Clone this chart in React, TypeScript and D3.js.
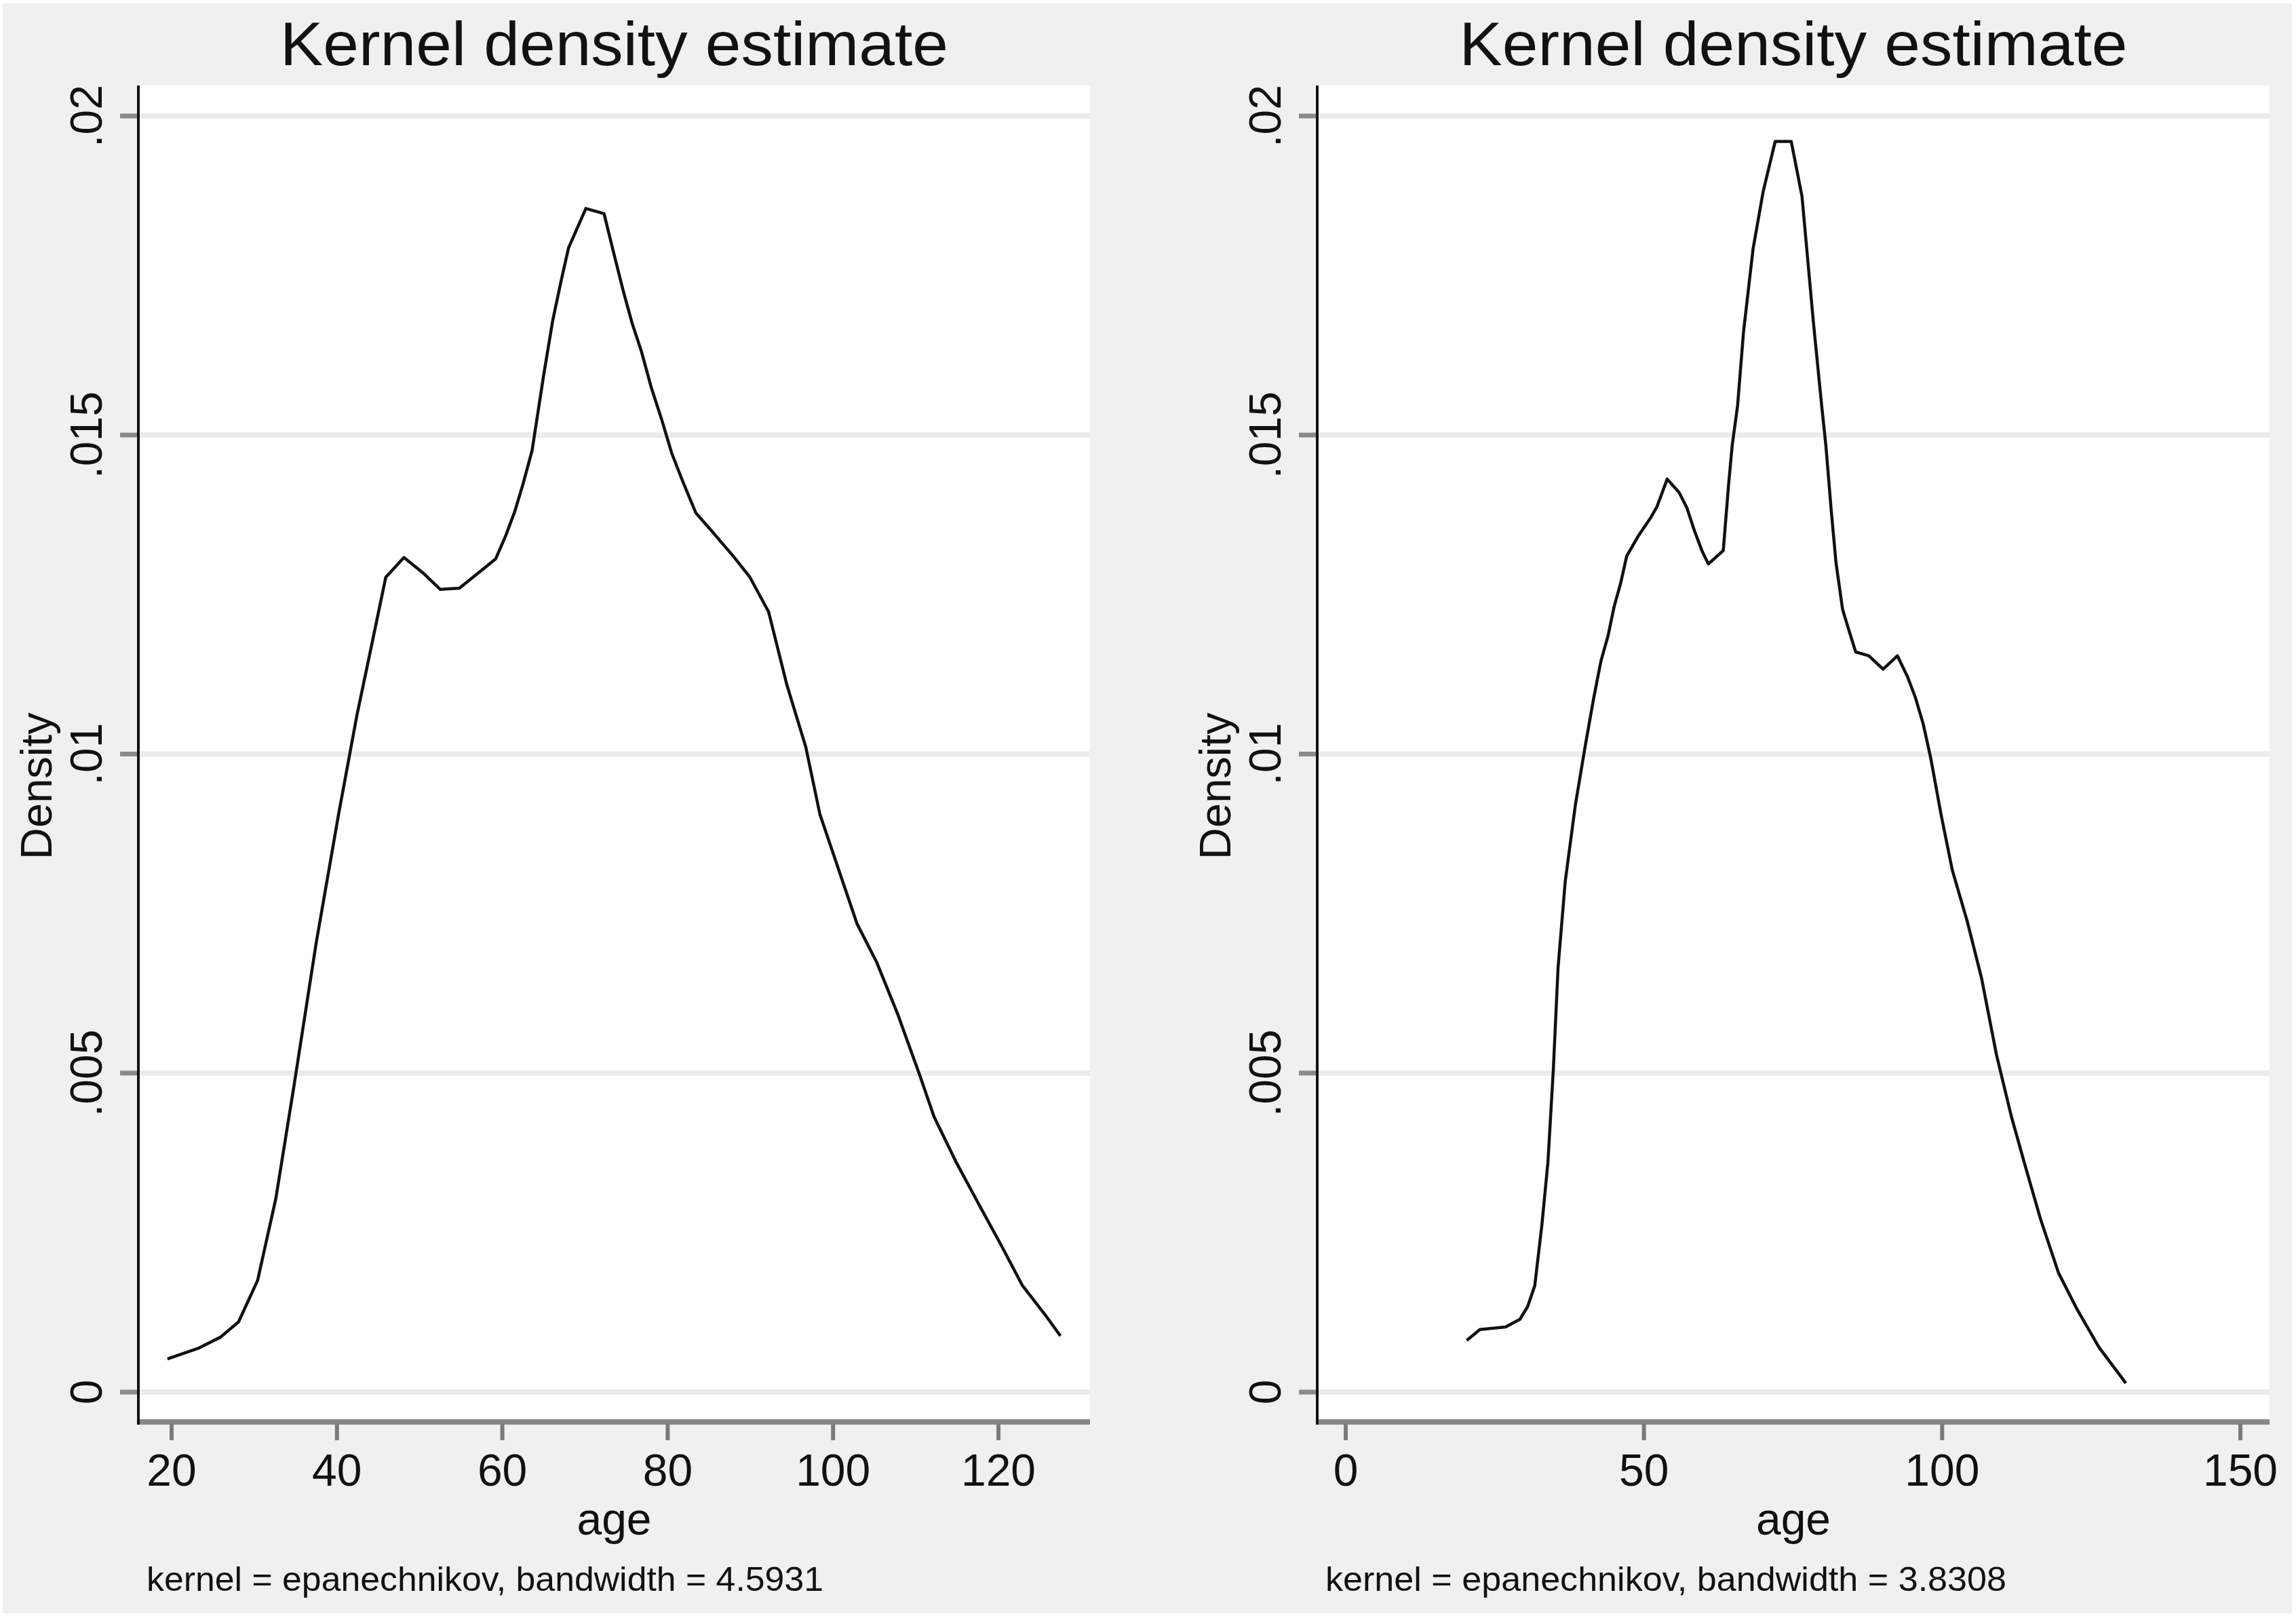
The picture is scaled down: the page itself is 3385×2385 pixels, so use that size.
import React from 'react';
import * as d3 from 'd3';

// Two Stata-style kernel density panels side by side.
const WIDTH = 3385;
const HEIGHT = 2385;
const FONT = "'Liberation Sans', Arial, Helvetica, sans-serif";

const TITLE = 'Kernel density estimate';
const X_LABEL = 'age';
const Y_LABEL = 'Density';

const yTicks = [0, 0.005, 0.01, 0.015, 0.02];
const yTickLabels = ['0', '.005', '.01', '.015', '.02'];

const leftXTicks = [20, 40, 60, 80, 100, 120];
const rightXTicks = [0, 50, 100, 150];

const leftNote = 'kernel = epanechnikov, bandwidth = 4.5931';
const rightNote = 'kernel = epanechnikov, bandwidth = 3.8308';

// left panel curve
const leftAge = [
  19.5, 23.3, 25.9, 28.1, 30.4, 32.6, 34.8, 37.5, 40.2, 42.4, 44.1, 45.9, 48.1, 50.4, 52.5, 54.8,
  57.1, 59.2, 60.4, 61.5, 62.5, 63.6, 65.0, 66.1, 67.1, 68.0, 70.1, 72.3, 73.4, 74.6, 75.7, 76.8,
  78.0, 79.3, 80.5, 81.8, 83.4, 85.5, 88.0, 89.9, 92.2, 94.4, 96.7, 98.4, 100.7, 102.9, 105.3,
  107.8, 110.5, 112.2, 114.9, 117.6, 120.3, 122.9, 125.6, 127.5,
];
const leftDensity = [
  0.00052, 0.00069, 0.00086, 0.0011, 0.00175, 0.00303, 0.0048, 0.00705, 0.00906, 0.0106, 0.01165,
  0.01277, 0.01308, 0.01284, 0.01258, 0.0126, 0.01284, 0.01306, 0.01342, 0.0138, 0.01423, 0.01476,
  0.01594, 0.0168, 0.01741, 0.01793, 0.01855, 0.01847, 0.01789, 0.01727, 0.01675, 0.01632, 0.01575,
  0.01523, 0.01471, 0.01428, 0.01378, 0.01347, 0.01309, 0.01278, 0.01223, 0.01109, 0.01011, 0.00906,
  0.00818, 0.00734, 0.00673, 0.00593, 0.00496, 0.00432, 0.0036, 0.00295, 0.00231, 0.00167, 0.00122,
  0.00088,
];

// right panel curve
const rightAge = [
  20.3, 22.5, 26.8, 29.2, 30.5, 31.7, 32.9, 33.9, 34.8, 35.6, 36.8, 38.5, 40.2, 41.6, 42.8, 44.0,
  45.0, 46.1, 47.1, 49.0, 51.1, 52.2, 53.9, 55.9, 57.2, 58.5, 59.8, 60.8, 62.0, 63.3, 64.2, 64.8,
  65.7, 66.7, 68.3, 70.0, 72.0, 74.7, 76.5, 78.4, 79.8, 80.5, 81.4, 82.2, 83.3, 84.2, 85.5, 87.7,
  90.1, 92.5, 94.2, 95.5, 96.8, 98.1, 99.8, 101.7, 104.2, 106.6, 109.1, 111.6, 114.0, 116.5, 119.5,
  122.6, 126.3, 130.8,
];
const rightDensity = [
  0.00081, 0.00098, 0.00102, 0.00114, 0.00134, 0.00167, 0.00263, 0.0036, 0.00504, 0.00665, 0.0080,
  0.0092, 0.01015, 0.01089, 0.01146, 0.01186, 0.01231, 0.01268, 0.0131, 0.01341, 0.0137, 0.01388,
  0.01431, 0.0141, 0.01386, 0.01349, 0.01317, 0.01298, 0.01308, 0.01319, 0.01423, 0.01484, 0.01546,
  0.01662, 0.01792, 0.01882, 0.0196, 0.0196, 0.01874, 0.01678, 0.01546, 0.01484, 0.01382, 0.013,
  0.01227, 0.01199, 0.0116, 0.01154, 0.01133, 0.01154, 0.01121, 0.01089, 0.01048, 0.00993, 0.00906,
  0.00818, 0.00738, 0.00649, 0.00529, 0.00432, 0.00352, 0.00271, 0.00187, 0.0013, 0.0007, 0.00014,
];

const PLOT_TOP = 126;
const PLOT_BOTTOM = 2093;
const AXIS_Y = 2096;

const yScale = d3.scaleLinear().domain([0, 0.02]).range([2052, 171]);

interface PanelProps {
  plotLeft: number;
  plotRight: number;
  xDomain: [number, number];
  xRange: [number, number];
  xTicks: number[];
  ages: number[];
  dens: number[];
  note: string;
  noteWidth: number;
}

const Panel: React.FC<PanelProps> = ({ plotLeft, plotRight, xDomain, xRange, xTicks, ages, dens, note, noteWidth }) => {
  const x = d3.scaleLinear().domain(xDomain).range(xRange);
  const pts = ages.map((a, i) => [a, dens[i]] as [number, number]);
  const line = d3
    .line<[number, number]>()
    .x((d) => x(d[0]))
    .y((d) => yScale(d[1]));
  const cx = (plotLeft + plotRight) / 2;
  const yMid = yScale(0.0095);

  return (
    <g>
      <rect x={plotLeft} y={PLOT_TOP} width={plotRight - plotLeft} height={PLOT_BOTTOM - PLOT_TOP} fill="#ffffff" />

      {/* horizontal grid */}
      {yTicks.map((t) => (
        <line key={'g' + t} x1={plotLeft} x2={plotRight} y1={yScale(t)} y2={yScale(t)} stroke="#ebebeb" strokeWidth={8} />
      ))}

      {/* y ticks + labels */}
      {yTicks.map((t, i) => (
        <g key={'y' + t}>
          <line x1={plotLeft - 27} x2={plotLeft} y1={yScale(t)} y2={yScale(t)} stroke="#8a8a8a" strokeWidth={7} />
          <text
            transform={`translate(${plotLeft - 54}, ${yScale(t)}) rotate(-90)`}
            textAnchor="middle"
            fontSize={66}
            fontFamily={FONT}
            fill="#111"
          >
            {yTickLabels[i]}
          </text>
        </g>
      ))}

      {/* x axis */}
      <line x1={plotLeft - 2} x2={plotRight} y1={AXIS_Y} y2={AXIS_Y} stroke="#878787" strokeWidth={8} />
      {xTicks.map((t) => (
        <g key={'x' + t}>
          <line x1={x(t)} x2={x(t)} y1={AXIS_Y + 3} y2={AXIS_Y + 27} stroke="#7a7a7a" strokeWidth={6} />
          <text x={x(t)} y={2190} textAnchor="middle" fontSize={66} fontFamily={FONT} fill="#111">
            {t}
          </text>
        </g>
      ))}

      {/* y axis line */}
      <line x1={plotLeft} x2={plotLeft} y1={PLOT_TOP} y2={AXIS_Y + 4} stroke="#111" strokeWidth={4} />

      <path d={line(pts) ?? ''} fill="none" stroke="#111" strokeWidth={4.5} strokeLinejoin="round" />

      <text x={cx} y={96} textAnchor="middle" fontSize={91} fontFamily={FONT} fill="#111" textLength={985} lengthAdjust="spacingAndGlyphs">
        {TITLE}
      </text>
      <text x={cx} y={2262} textAnchor="middle" fontSize={66} fontFamily={FONT} fill="#111">
        {X_LABEL}
      </text>
      <text
        transform={`translate(${plotLeft - 128}, ${yMid}) rotate(-90)`}
        textAnchor="middle"
        fontSize={65}
        fontFamily={FONT}
        fill="#111"
      >
        {Y_LABEL}
      </text>
      <text x={plotLeft + 12} y={2345} fontSize={50} fontFamily={FONT} fill="#111" textLength={noteWidth} lengthAdjust="spacingAndGlyphs">
        {note}
      </text>
    </g>
  );
};

export default function App() {
  return (
    <>
      <style>{'body{margin:0}'}</style>
      <svg width={WIDTH} height={HEIGHT} viewBox={`0 0 ${WIDTH} ${HEIGHT}`} style={{ display: 'block' }}>
        <rect width={WIDTH} height={HEIGHT} fill="#ffffff" />
        <rect x={4} y={5} width={WIDTH - 10} height={HEIGHT - 12} fill="#f0f0f0" />
        <Panel
          plotLeft={204}
          plotRight={1607}
          xDomain={[20, 120]}
          xRange={[253, 1472]}
          xTicks={leftXTicks}
          ages={leftAge}
          dens={leftDensity}
          note={leftNote}
          noteWidth={998}
        />
        <Panel
          plotLeft={1942}
          plotRight={3346}
          xDomain={[0, 150]}
          xRange={[1984, 3303]}
          xTicks={rightXTicks}
          ages={rightAge}
          dens={rightDensity}
          note={rightNote}
          noteWidth={1004}
        />
      </svg>
    </>
  );
}
